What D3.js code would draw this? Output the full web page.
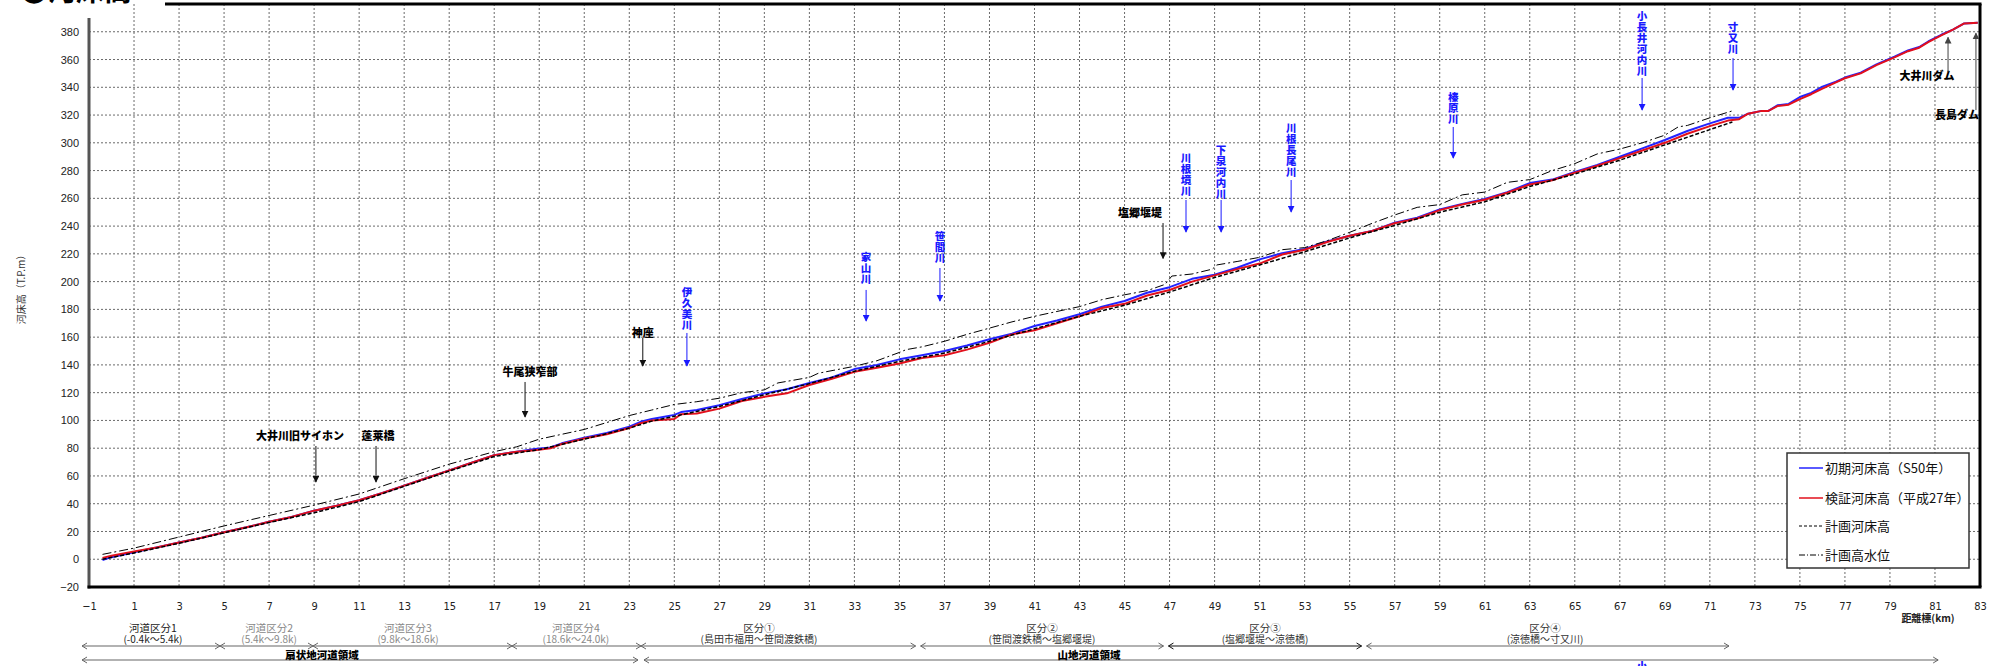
<!DOCTYPE html>
<html>
<head>
<meta charset="utf-8">
<script src="https://cdn.jsdelivr.net/npm/d3@7"></script>
<style>
  html, body { margin: 0; padding: 0; background: #fff; }
  svg { display: block; }
</style>
</head>
<body>
<svg id="chart" width="1997" height="666"></svg>
<script>
// ---- Longitudinal bed profile data (距離標 km / 標高 T.P.m) ----
const kmBed = [-0.4,0,1,2,3,4,5,6,7,8,9,10,11,12,13,14,15,16,17,18,18.8,19.5,20,21,22,23,23.5,24,24.5,25,25.3,
  26,27,28,29,30,31,32,33,34,35,36,37,38,39,40,41,42,43,44,45,46,47,48,49,50,51,52,53,54,55,56,57,58,59,60,
  61,62,63,64,65,66,67,68,69,70,71,71.8,72.3,72.7,73.3,73.6,74,74.5,75,75.5,76,76.6,77,77.7,78.4,79.2,79.8,
  80.3,80.7,81.3,81.8,82.3,82.9];

// 初期河床高 (S50年)
const bedS50 = [-0.5,1.5,5,8.5,12,15.5,19.5,23,27,30.5,35,38.5,42.5,47.5,53,58.5,64,69.5,75,77.5,79.5,80.5,
  83.5,87.5,91,95.5,99,101,102.5,104,106,
  107.5,111,115.5,119.5,122.5,127,131,137,140,144,147,150,154,158.5,162.5,168,172,176.5,182,186,192,196,202,
  205,210,216,220.5,223.5,229,233,236.5,242.5,246,252,256,259.5,264.5,271,273.5,279,284,290,296,302,308.5,314,
  318,318,321,323,323,327,328,333,336,340.5,344,347,350.5,356.5,362,366.5,369,373,378,381.5,386,386.5];

// 検証河床高 (平成27年)
const bedH27 = [1,2.5,5.5,8.5,12,15.5,19.5,23,27,30.5,35,38.5,42.5,47.5,53,58.5,64,69.5,75,77.5,78.5,80,
  83,87,90,94.5,98,100,100.5,101,104.5,
  105,108.5,114,117,119.5,125.5,130,135,138,141,145,147,151,156,162,165,170,175,181,184,190,194,200,
  204.5,209,213,219.5,223,228.5,233,236.5,242,245.5,251.5,255.5,259,264,270,273,278.5,283.5,289,294.5,300,306.5,312,
  316,317,321,323,323,326.5,327.5,331.5,335,339,343.5,346.5,350,356,361.5,366,368.5,372.5,377.5,381.5,386,386.5];

// 計画河床高
const kmPlanBed = [-0.4,1,3,5,7,9,11,13,15,17,19,21,23,24,25,27,29,31,33,35,37,39,40,41,43,45,47,49,51,53,55,
  57,59,61,63,65,67,69,71,72];
const planBed = [0,4.5,11.5,19,26.5,33.5,41.5,52.5,63.5,74,79,86.5,94.5,99.5,103,110,118.5,126.5,135.5,142.5,
  148.5,157,161.5,166,175,183,192.5,203,212,221.5,231.5,240.5,250,257.5,268.5,277.5,287.5,298.5,309.5,315];

// 計画高水位
const kmHWL = [-0.4,1,3,5,7,9,11,13,15,17,18,19,20,21,22,23,24,25,26,27,28,29,29.6,31,31.4,33,34,35,35.3,
  36,37,38,39,40,41,42,43,44,45,46,46.8,47.1,48,48.9,49.1,50,51,52,53,54,55,56,57,58,59,60,61,62,63,64,65,
  66,67,68,69,69.6,70,71,72];
const planHWL = [3.5,8,16,24,31.5,39,47,58,68.5,77.5,81,86.5,90,93.5,98.5,103.5,107.5,111.5,113.5,116,120,122,
  127,131,134,139,143,149,151,153,157,162,166.5,171,175,178.5,182,187,190.5,193.5,198,204,205.5,209,212,
  214.5,217.5,223,224.5,229.5,235.5,242,248,253.5,255.5,262.5,264.5,271.5,273.5,280,285,292,295.5,300,305.5,
  311.5,312.5,318,323];

// Axis ticks
const xTickValues = d3.range(-1, 84, 2);
const yTickValues = d3.range(-20, 400, 20);

const legendLabels = ['初期河床高（S50年）', '検証河床高（平成27年）', '計画河床高', '計画高水位'];

// Landmarks (black) – text centre and arrow span in chart units
const landmarks = [
  { name: '大井川旧サイホン', km: 8.37, at: 88.8, arrowKm: 9.08, from: 81.6, to: 55.6 },
  { name: '蓬莱橋', km: 11.84, at: 88.8, arrowKm: 11.75, from: 81.6, to: 55.6 },
  { name: '牛尾狭窄部', km: 18.59, at: 134.9, arrowKm: 18.37, from: 127.7, to: 102.5 },
  { name: '神座', km: 23.6, at: 163, arrowKm: 23.6, from: 159.4, to: 139.2 },
  { name: '塩郷堰堤', km: 45.69, at: 249.4, arrowKm: 46.71, from: 242.2, to: 216.7 },
  { name: '大井川ダム', km: 80.65, at: 348, arrowKm: 81.58, from: 351, to: 376 },
  { name: '長島ダム', km: 81.98, at: 320, arrowKm: 82.82, from: 323.6, to: 379 }
];

// Tributaries (blue, vertical text) – top = top edge of the first character
const tributaries = [
  { name: '伊久美川', km: 25.56, top: 196.5, from: 163, to: 139.2 },
  { name: '家山川', km: 33.52, top: 221.7, from: 194, to: 171.6 },
  { name: '笹間川', km: 36.8, top: 236.9, from: 209.8, to: 186 },
  { name: '川根境川', km: 47.73, top: 293, from: 258.8, to: 235.7 },
  { name: '下泉河内川', km: 49.29, top: 298.8, from: 258.8, to: 235.7 },
  { name: '川根長尾川', km: 52.4, top: 314.7, from: 273.2, to: 250.2 },
  { name: '榛原川', km: 59.6, top: 337, from: 311.4, to: 289 },
  { name: '小長井河内川', km: 67.99, top: 395.4, from: 346.7, to: 323.6 },
  { name: '寸又川', km: 72.03, top: 387.4, from: 361, to: 338 }
];

// Reach divisions below the axis
const sectionBreaks = [-1.31, 4.82, 8.95, 17.79, 23.52];
const sectionLabelKm = [1.84, 7.0, 13.17, 20.63];
const sectionNames = ['河道区分1', '河道区分2', '河道区分3', '河道区分4'];
const sectionRanges = ['(-0.4k〜5.4k)', '(5.4k〜9.8k)', '(9.8k〜18.6k)', '(18.6k〜24.0k)'];
const reachBreaks = [23.52, 35.83, 46.84, 55.64, 71.85];
const reachLabelKm = [28.76, 41.33, 51.24, 63.68];
const reachNames = ['区分①', '区分②', '区分③', '区分④'];
const reachRanges = ['(島田市福用〜笹間渡鉄橋)', '(笹間渡鉄橋〜塩郷堰堤)', '(塩郷堰堤〜涼徳橋)', '(涼徳橋〜寸又川)'];
const zoneBreaks = [-1.31, 23.52, 81.14];
const zoneLabelKm = [9.35, 43.42];
const zoneNames = ['扇状地河道領域', '山地河道領域'];

// ---- Drawing ----
const CJK = "'Noto Sans CJK JP', 'Noto Sans', sans-serif";
const NUM = "'Liberation Sans', Arial, sans-serif";
const NARROW = "'Liberation Sans Narrow', 'DejaVu Sans Condensed', 'Liberation Sans', sans-serif";

const svg = d3.select('#chart');
const x = d3.scaleLinear().domain([-1, 83]).range([89, 1980]);
const y = d3.scaleLinear().domain([-20, 400]).range([587, 4]);

const defs = svg.append('defs');
function arrowMarker(id, color) {
  defs.append('marker').attr('id', id)
    .attr('viewBox', '0 0 10 10').attr('refX', 9).attr('refY', 5)
    .attr('markerWidth', 7).attr('markerHeight', 7).attr('markerUnits', 'userSpaceOnUse')
    .attr('orient', 'auto')
    .append('path').attr('d', 'M0,0 L10,5 L0,10 Z').attr('fill', color);
}
arrowMarker('arrowBlack', '#111');
arrowMarker('arrowGray', '#444');
arrowMarker('arrowBlue', '#1a1aff');

// Grid
const grid = svg.append('g').attr('stroke', '#6a6a6a').attr('stroke-width', 1).attr('stroke-dasharray', '2,2');
grid.selectAll('line.gv').data(xTickValues.filter(d => d > -1 && d < 83)).join('line').attr('class', 'gv')
  .attr('x1', d => x(d)).attr('x2', d => x(d)).attr('y1', y(400)).attr('y2', y(-20));
grid.selectAll('line.gh').data(yTickValues.filter(d => d > -20)).join('line').attr('class', 'gh')
  .attr('x1', x(-1)).attr('x2', x(83)).attr('y1', d => y(d)).attr('y2', d => y(d));

// Axis labels
const xAxis = d3.axisBottom(x).tickValues(xTickValues).tickSize(0).tickPadding(15);
svg.append('g').attr('transform', `translate(0,${y(-20)})`).call(xAxis)
  .call(g => g.select('.domain').remove())
  .selectAll('text').attr('font-family', NARROW).attr('font-size', 11).attr('fill', '#222');

const yAxis = d3.axisLeft(y).tickValues(yTickValues).tickSize(0).tickPadding(10);
svg.append('g').attr('transform', `translate(${x(-1)},0)`).call(yAxis)
  .call(g => g.select('.domain').remove())
  .selectAll('text').attr('font-family', NUM).attr('font-size', 11).attr('fill', '#222');

// Series lines
const line = d3.line().x(d => x(d[0])).y(d => y(d[1]));
const zip = (a, b) => a.map((v, i) => [v, b[i]]);

svg.append('path').datum(zip(kmBed, bedS50)).attr('d', line)
  .attr('fill', 'none').attr('stroke', '#2323ff').attr('stroke-width', 2).attr('stroke-linejoin', 'round');
svg.append('path').datum(zip(kmBed, bedH27)).attr('d', line)
  .attr('fill', 'none').attr('stroke', '#e2101c').attr('stroke-width', 2).attr('stroke-linejoin', 'round');
svg.append('path').datum(zip(kmPlanBed, planBed)).attr('d', line)
  .attr('fill', 'none').attr('stroke', '#000').attr('stroke-width', 1.5).attr('stroke-dasharray', '4,2');
svg.append('path').datum(zip(kmHWL, planHWL)).attr('d', line)
  .attr('fill', 'none').attr('stroke', '#000').attr('stroke-width', 1).attr('stroke-dasharray', '9,3,2,3');

// Frame
svg.append('line').attr('x1', x(-1)).attr('x2', x(-1)).attr('y1', 18).attr('y2', y(-20) + 1.5)
  .attr('stroke', '#555').attr('stroke-width', 3);
svg.append('line').attr('x1', x(-1) - 1.5).attr('x2', x(83) + 1.5).attr('y1', y(-20)).attr('y2', y(-20))
  .attr('stroke', '#000').attr('stroke-width', 3);
svg.append('line').attr('x1', x(83)).attr('x2', x(83)).attr('y1', y(400)).attr('y2', y(-20))
  .attr('stroke', '#000').attr('stroke-width', 3);
svg.append('line').attr('x1', 165).attr('x2', x(83) + 1.5).attr('y1', y(400)).attr('y2', y(400))
  .attr('stroke', '#000').attr('stroke-width', 3);

// Title (top-left, runs off the top edge)
svg.append('text').attr('x', 20).attr('y', 1).attr('font-family', CJK).attr('font-size', 28)
  .attr('font-weight', 700).attr('fill', '#000').text('❸河床高');

// Axis titles
svg.append('text').attr('transform', 'translate(25,287) rotate(-90)').attr('text-anchor', 'middle')
  .attr('font-family', CJK).attr('font-size', 10).attr('fill', '#333').text('河床高（T.P.m）');
svg.append('text').attr('x', 1928).attr('y', 622).attr('text-anchor', 'middle')
  .attr('font-family', CJK).attr('font-size', 10).attr('font-weight', 700).attr('fill', '#222').text('距離標(km)');

// Landmarks
const lm = svg.append('g');
landmarks.forEach(d => {
  lm.append('text').attr('x', x(d.km)).attr('y', y(d.at)).attr('dy', '0.36em').attr('text-anchor', 'middle')
    .attr('font-family', CJK).attr('font-size', 11).attr('font-weight', 900).attr('fill', '#000').text(d.name);
  const dam = d.to > d.from;
  lm.append('line').attr('x1', x(d.arrowKm)).attr('x2', x(d.arrowKm)).attr('y1', y(d.from)).attr('y2', y(d.to))
    .attr('stroke', dam ? '#444' : '#111').attr('stroke-width', 1)
    .attr('marker-end', dam ? 'url(#arrowGray)' : 'url(#arrowBlack)');
});

// Tributaries – names set vertically
const tb = svg.append('g');
tributaries.forEach(d => {
  tb.append('text')
    .attr('x', x(d.km)).attr('y', y(d.top))
    .style('writing-mode', 'vertical-rl').style('text-orientation', 'upright')
    .attr('letter-spacing', 0.5)
    .attr('font-family', CJK).attr('font-size', 10.5).attr('font-weight', 900)
    .attr('fill', '#1a1aff').text(d.name);
  tb.append('line').attr('x1', x(d.km)).attr('x2', x(d.km)).attr('y1', y(d.from)).attr('y2', y(d.to))
    .attr('stroke', '#1a1aff').attr('stroke-width', 1).attr('marker-end', 'url(#arrowBlue)');
});
// top of a further tributary name peeking in at the bottom edge
svg.append('text').attr('x', x(67.99)).attr('y', 671).attr('text-anchor', 'middle')
  .attr('font-family', CJK).attr('font-size', 11).attr('font-weight', 900).attr('fill', '#1a1aff').text('小');

// Legend
const lg = svg.append('g').attr('transform', 'translate(1787,453)');
lg.append('rect').attr('width', 182).attr('height', 115).attr('fill', '#fff')
  .attr('stroke', '#333').attr('stroke-width', 1.5);
const legendStyles = [
  { stroke: '#2323ff', dash: null, w: 1.5 },
  { stroke: '#e2101c', dash: null, w: 1.5 },
  { stroke: '#000', dash: '3,2', w: 1 },
  { stroke: '#000', dash: '6,2,1,2', w: 1 }
];
const legendY = [15, 45, 73, 102];
legendLabels.forEach((t, i) => {
  lg.append('line').attr('x1', 12).attr('x2', 36).attr('y1', legendY[i]).attr('y2', legendY[i])
    .attr('stroke', legendStyles[i].stroke).attr('stroke-width', legendStyles[i].w)
    .attr('stroke-dasharray', legendStyles[i].dash);
  lg.append('text').attr('x', 38).attr('y', legendY[i]).attr('dy', '0.36em')
    .attr('font-family', CJK).attr('font-size', 13).attr('fill', '#111').text(t);
});

// Division arrows under the axis
const rows = svg.append('g');
function chevron(px, py, dir, color) {
  rows.append('path').attr('d', `M${px - 5 * dir},${py - 3} L${px},${py} L${px - 5 * dir},${py + 3}`)
    .attr('fill', 'none').attr('stroke', color).attr('stroke-width', 1);
}
function spanRow(breaks, py, gap, colors) {
  for (let i = 0; i < breaks.length - 1; i++) {
    const x0 = x(breaks[i]) + (i > 0 ? gap : 0);
    const x1 = x(breaks[i + 1]) - (i < breaks.length - 2 ? gap : 0);
    const c = colors[i];
    rows.append('line').attr('x1', x0).attr('x2', x1).attr('y1', py).attr('y2', py)
      .attr('stroke', c).attr('stroke-width', 1.2);
    chevron(x0, py, -1, c);
    chevron(x1, py, 1, c);
  }
}
const ROW1 = 646, ROW2 = 660;
spanRow(sectionBreaks, ROW1, 0, ['#666', '#666', '#666', '#666']);
spanRow(reachBreaks, ROW1, 2.5, ['#666', '#666', '#111', '#666']);
spanRow(zoneBreaks, ROW2, 3, ['#666', '#666']);

// Two-line captions: name above, range in parentheses below
function caption(km, name, range, color) {
  const t = rows.append('text').attr('text-anchor', 'middle').attr('font-family', CJK).attr('fill', color);
  t.append('tspan').attr('x', x(km)).attr('y', 632).attr('font-size', 10.5).text(name);
  t.append('tspan').attr('x', x(km)).attr('y', 643).attr('font-size', 10).text(range);
}
const sectionColors = ['#222', '#888', '#888', '#888'];
sectionNames.forEach((t, i) => caption(sectionLabelKm[i], t, sectionRanges[i], sectionColors[i]));
reachNames.forEach((t, i) => caption(reachLabelKm[i], t, reachRanges[i], '#333'));
zoneNames.forEach((t, i) => {
  rows.append('text').attr('x', x(zoneLabelKm[i])).attr('y', 655).attr('dy', '0.36em').attr('text-anchor', 'middle')
    .attr('font-family', CJK).attr('font-size', 10.5).attr('font-weight', 900).attr('fill', '#000').text(t);
});
</script>
</body>
</html>
